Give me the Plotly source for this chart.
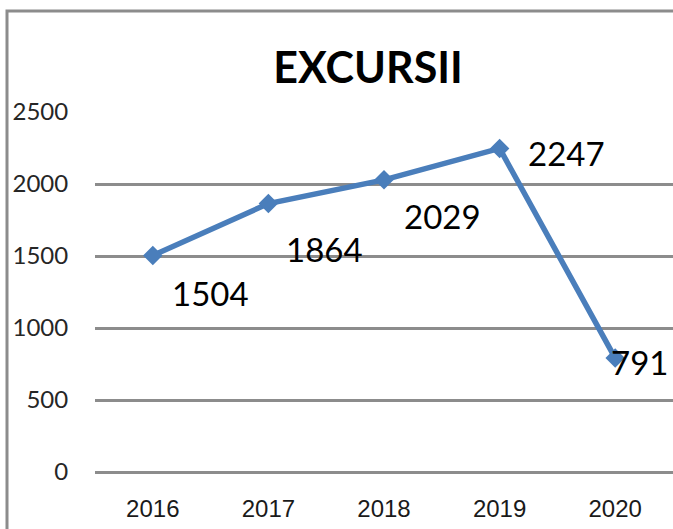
import plotly.graph_objects as go

years = ["2016", "2017", "2018", "2019", "2020"]
excursii = [1504, 1864, 2029, 2247, 791]
y_ticks = [0, 500, 1000, 1500, 2000, 2500]
title_text = "EXCURSII"

# label offsets (pixels) relative to each marker: right, down
label_dx = [17, 16, 18, 26, -6]
label_dy = [38, 45, 36, 5, 4]

W, H = 673, 529
ML, MR, MT, MB = 95, 0, 112, 57
PW, PH = W - ML - MR, H - MT - MB

LINE_COLOR = "#4A7EBB"
GRID_COLOR = "#8C8C8C"

fig = go.Figure()
fig.add_trace(go.Scatter(
    x=years, y=excursii, mode="lines+markers",
    line=dict(color=LINE_COLOR, width=5.5),
    marker=dict(symbol="diamond", size=15, color=LINE_COLOR),
    hoverinfo="x+y", showlegend=False,
))

annotations = []
for i, (yv, dx, dy) in enumerate(zip(excursii, label_dx, label_dy)):
    annotations.append(dict(
        x=i, y=yv, xref="x", yref="y", text=str(yv), showarrow=False,
        xanchor="left", yanchor="middle", xshift=dx, yshift=-dy,
        font=dict(family="Lato, Carlito, Calibri, sans-serif", size=33, color="#000000"),
    ))

def px2paper_x(px):
    return (px - ML) / PW

def px2paper_y(py):
    return (H - MB - py) / PH

fig.update_layout(
    width=W, height=H,
    margin=dict(l=ML, r=MR, t=MT, b=MB, pad=0, autoexpand=False),
    paper_bgcolor="white", plot_bgcolor="white",
    title=dict(
        text="<b>" + title_text + "</b>",
        x=368 / W, xref="container", xanchor="center",
        y=1 - 68 / H, yref="container", yanchor="middle",
        font=dict(family="Lato, Carlito, Calibri, sans-serif", size=43, color="#000000"),
    ),
    xaxis=dict(
        type="category", range=[-0.5, 4.5], automargin=False,
        showgrid=False, showline=False, zeroline=False,
        ticks="outside", ticklen=15, tickcolor="rgba(0,0,0,0)",
        tickfont=dict(family="Liberation Sans Narrow, Liberation Sans, Arial, sans-serif", size=24, color="#1a1a1a"),
        fixedrange=True,
    ),
    yaxis=dict(
        range=[0, 2500], tickvals=y_ticks, automargin=False,
        showgrid=True, gridcolor=GRID_COLOR, gridwidth=2.5,
        zeroline=True, zerolinecolor=GRID_COLOR, zerolinewidth=2.5,
        showline=False,
        ticks="outside", ticklen=21, tickcolor="rgba(0,0,0,0)",
        tickfont=dict(family="Lato, Carlito, Calibri, sans-serif", size=24, color="#262626"),
        fixedrange=True,
    ),
    annotations=annotations,
    shapes=[dict(
        type="rect", xref="paper", yref="paper",
        x0=px2paper_x(7), x1=px2paper_x(W + 10),
        y0=px2paper_y(H + 10), y1=px2paper_y(11),
        line=dict(color="#8C8C8C", width=3), fillcolor="rgba(0,0,0,0)",
        layer="below",
    )],
)

fig.write_html(
    "out.html",
    config={"displayModeBar": False},
    post_script="document.body.style.margin='0';document.body.style.overflow='hidden';",
)
